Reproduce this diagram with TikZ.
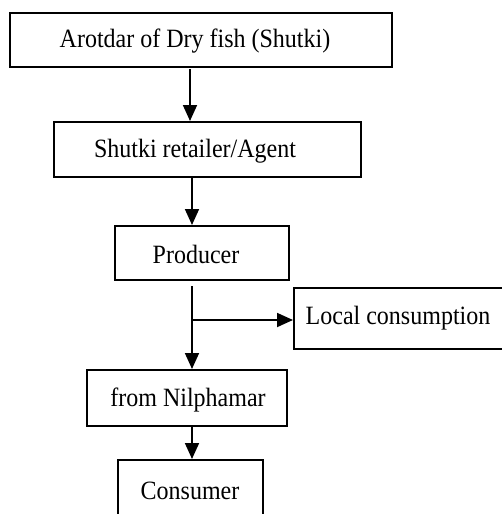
\documentclass[tikz,border=0pt]{standalone}
\usepackage{fontspec}
\setmainfont{Liberation Serif}
\usetikzlibrary{arrows.meta}
\newcommand{\tallt}[1]{\scalebox{1}[1.1]{#1}}
\begin{document}
\begin{tikzpicture}[x=1pt,y=-1pt,
  box/.style={draw, line width=1.5pt, inner sep=0pt, anchor=north west},
  lbl/.style={font=\fontsize{24}{28}\selectfont, inner sep=0pt},
  arr/.style={line width=1.8pt, -{Triangle[width=14pt,length=16pt]}}]
\useasboundingbox (0,0) rectangle (502,514);
\clip (0,0) rectangle (502,514);
% boxes
\node[box, minimum width=382pt, minimum height=54pt] (b1) at (9,12) {};
\node[box, minimum width=307pt, minimum height=55pt] (b2) at (53,121) {};
\node[box, minimum width=174pt, minimum height=54pt] (b3) at (114,225) {};
\node[box, minimum width=220pt, minimum height=61pt] (b6) at (293,287) {};
\node[box, minimum width=200pt, minimum height=56pt] (b4) at (86,369) {};
\node[box, minimum width=145pt, minimum height=70pt] (b5) at (117,459) {};
% texts
\node[lbl] (t1) at (195,41) {\tallt{Arotdar of Dry fish (Shutki)}};
\node[lbl] (t2) at (195,151) {\tallt{Shutki retailer/Agent}};
\node[lbl] (t3) at (196,254) {\tallt{Producer}};
\node[lbl] (t6) at (398,318) {\tallt{Local consumption}};
\node[lbl] (t4) at (188,400) {\tallt{from Nilphamar}};
\node[lbl] (t5) at (190,491) {\tallt{Consumer}};
% connectors
\coordinate (p1) at (190,69);
\coordinate (p2) at (192,176);
\coordinate (p3) at (192,286);
\coordinate (br) at (192,320);
\draw[arr] (p1) -- (p1 |- b2.north);
\draw[arr] (p2) -- (p2 |- b3.north);
\draw[arr] (p3) -- (p3 |- b4.north);
\draw[arr] (br) -- (br -| b6.west);
\draw[arr] (p2 |- b4.south) -- (p2 |- b5.north);
\end{tikzpicture}
\end{document}
